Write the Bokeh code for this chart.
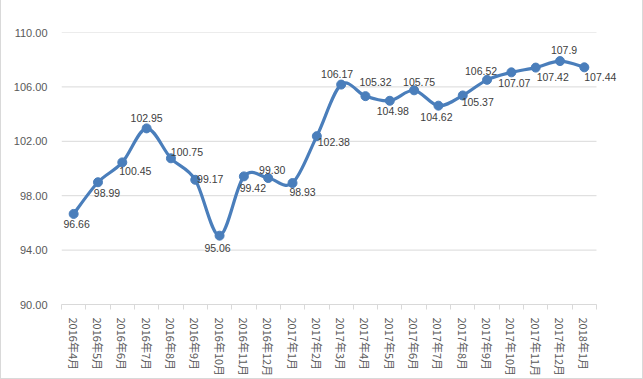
import math
from bokeh.plotting import figure
from bokeh.models import ColumnDataSource, Range1d, FixedTicker, PrintfTickFormatter, LabelSet
from bokeh.core.properties import value
from bokeh.embed import file_html
from bokeh.resources import INLINE

categories = ["2016年4月", "2016年5月", "2016年6月", "2016年7月", "2016年8月", "2016年9月",
              "2016年10月", "2016年11月", "2016年12月", "2017年1月", "2017年2月", "2017年3月",
              "2017年4月", "2017年5月", "2017年6月", "2017年7月", "2017年8月", "2017年9月",
              "2017年10月", "2017年11月", "2017年12月", "2018年1月"]
values = [96.66, 98.99, 100.45, 102.95, 100.75, 99.17, 95.06, 99.42, 99.30, 98.93, 102.38,
          106.17, 105.32, 104.98, 105.75, 104.62, 105.37, 106.52, 107.07, 107.42, 107.9, 107.44]
value_labels = ["96.66", "98.99", "100.45", "102.95", "100.75", "99.17", "95.06", "99.42",
                "99.30", "98.93", "102.38", "106.17", "105.32", "104.98", "105.75", "104.62",
                "105.37", "106.52", "107.07", "107.42", "107.9", "107.44"]
y_ticks = [90, 94, 98, 102, 106, 110]

# label placement offsets (pixels, screen: +dy is downward)
label_dx = [3, 9, 13, 0, 16, 15, -2, 9, 4, 10, 17, -4, 10, 3, 5, -2, 15, -6, 3, 17, 4, 16]
label_dy = [10, 11, 9, -10, -6, -1, 12, 12, -8, 9, 6, -11, -14, 10, -8, 11, 7, -9, 11, 9, -11, 10]

BLUE = "#4A7EBB"
GRID = "#D9D9D9"
n = len(values)
xs = list(range(n))
x_lo, x_hi = -0.5, n - 0.5
# frame extended a little to the right (empty) so the last data label is not clipped
x_pad = 20 / (535 / n)

p = figure(width=643, height=379, output_backend="svg", toolbar_location=None,
           x_range=Range1d(x_lo, x_hi + x_pad), y_range=Range1d(90, 110),
           min_border_left=61, min_border_right=27, min_border_top=32, min_border_bottom=75)
p.outline_line_color = None
p.background_fill_color = "white"
p.border_fill_color = None
p.styles = {"box-shadow": "inset 1px 0 0 #D9D9D9, inset -1px 0 0 #D9D9D9, inset 0 -1px 0 #D9D9D9",
            "background-color": "white"}

# horizontal gridlines limited to the category span
p.xgrid.grid_line_color = None
p.ygrid.grid_line_color = None
p.segment(x0=[x_lo] * len(y_ticks), x1=[x_hi] * len(y_ticks), y0=y_ticks, y1=y_ticks,
          line_color=GRID, line_width=1)

# smooth curve (Catmull-Rom -> cubic Bezier), built from the data values
x0, y0, x1, y1, cx0, cy0, cx1, cy1 = [], [], [], [], [], [], [], []
for i in range(n - 1):
    pa = (xs[max(i - 1, 0)], values[max(i - 1, 0)])
    pb = (xs[i], values[i])
    pc = (xs[i + 1], values[i + 1])
    pd = (xs[min(i + 2, n - 1)], values[min(i + 2, n - 1)])
    x0.append(pb[0]); y0.append(pb[1]); x1.append(pc[0]); y1.append(pc[1])
    cx0.append(pb[0] + (pc[0] - pa[0]) / 6.0); cy0.append(pb[1] + (pc[1] - pa[1]) / 6.0)
    cx1.append(pc[0] - (pd[0] - pb[0]) / 6.0); cy1.append(pc[1] - (pd[1] - pb[1]) / 6.0)
p.bezier(x0=x0, y0=y0, x1=x1, y1=y1, cx0=cx0, cy0=cy0, cx1=cx1, cy1=cy1,
         line_color=BLUE, line_width=3.2, line_cap="round")

src = ColumnDataSource(dict(x=xs, y=values, lab=value_labels, dx=label_dx,
                            dy=[-d for d in label_dy]))
p.scatter("x", "y", source=src, size=9, fill_color=BLUE, line_color=BLUE, marker="circle")
labels = LabelSet(x="x", y="y", text="lab", source=src, x_offset="dx", y_offset="dy",
                  text_align="center", text_baseline="middle",
                  text_font=value("Liberation Sans"),
                  text_font_size=value("10.5px"), text_color=value("#404040"))
p.add_layout(labels)

# axes
p.yaxis.ticker = FixedTicker(ticks=y_ticks)
p.yaxis.formatter = PrintfTickFormatter(format="%.2f")
p.yaxis.axis_line_color = None
p.yaxis.major_tick_line_color = None
p.yaxis.minor_tick_line_color = None
p.yaxis.major_label_standoff = 8
p.yaxis.major_label_text_font = "Liberation Sans"
p.yaxis.major_label_text_font_size = "11px"
p.yaxis.major_label_text_color = "#595959"

p.xaxis.bounds = (x_lo, x_hi)
p.xaxis.ticker = FixedTicker(ticks=xs, minor_ticks=[i - 0.5 for i in range(n + 1)])
p.xaxis.major_label_overrides = {i: c for i, c in enumerate(categories)}
p.xaxis.major_label_orientation = -math.pi / 2
p.xaxis.axis_line_color = GRID
p.xaxis.major_tick_line_color = None
p.xaxis.minor_tick_line_color = GRID
p.xaxis.minor_tick_out = 5
p.xaxis.minor_tick_in = 0
p.xaxis.major_tick_out = 0
p.xaxis.major_tick_in = 0
p.xaxis.major_label_standoff = 8
p.xaxis.major_label_text_font = "Noto Sans CJK SC"
p.xaxis.major_label_text_font_size = "11px"
p.xaxis.major_label_text_color = "#595959"

open("out.html", "w").write(file_html(p, INLINE))
